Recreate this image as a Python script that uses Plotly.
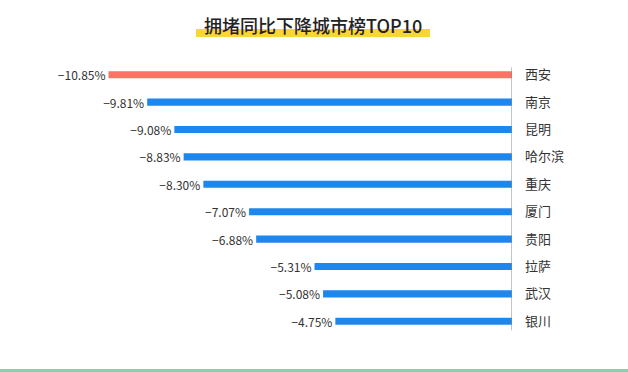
import plotly.graph_objects as go

cities = ["西安", "南京", "昆明", "哈尔滨", "重庆", "厦门", "贵阳", "拉萨", "武汉", "银川"]
values = [-10.85, -9.81, -9.08, -8.83, -8.30, -7.07, -6.88, -5.31, -5.08, -4.75]
title_text = "拥堵同比下降城市榜TOP10"

colors = ["#F77565"] + ["#1C87EE"] * (len(cities) - 1)
labels = [f"{v:.2f}%".replace("-", "−") for v in values]

font = "Noto Sans CJK SC"
fig = go.Figure(go.Bar(
    x=values, y=cities, orientation="h",
    marker=dict(color=colors, line=dict(width=0)),
    width=0.26,
    text=labels, textposition="outside", cliponaxis=False, constraintext="none",
    textfont=dict(size=12, color="#333333", family=font),
))

fig.update_layout(
    width=628, height=372,
    margin=dict(l=20, r=116, t=61, b=37),
    paper_bgcolor="white", plot_bgcolor="white",
    showlegend=False,
    font=dict(family=font, color="#333333"),
    xaxis=dict(range=[-13.23, 0], visible=False, fixedrange=True),
    yaxis=dict(autorange="reversed", side="right", showgrid=False, zeroline=False,
               showline=False, ticks="", ticklabelstandoff=12,
               tickfont=dict(size=13, color="#333333", family=font)),
    shapes=[
        dict(type="line", xref="x", yref="y", x0=0, x1=0, y0=-0.27, y1=9.33,
             line=dict(color="#888888", width=1)),
        dict(type="rect", xref="paper", yref="paper", x0=-20/492, x1=(628-20)/492,
             y0=-37/274, y1=-34/274, fillcolor="#8ECDB0", line=dict(width=0), layer="above"),
        dict(type="rect", xref="paper", yref="paper",
             x0=(196-20)/492, x1=(430-20)/492,
             y0=(372-37-37)/274, y1=(372-37-29)/274,
             fillcolor="#F9D733", line=dict(width=0), layer="below"),
    ],
    annotations=[dict(text=title_text, xref="paper", yref="paper",
                      x=(313-20)/492, y=(372-37-25)/274, xanchor="center", yanchor="middle",
                      showarrow=False,
                      font=dict(size=18, color="#222222", family=font, weight=500))],
)

fig.write_html("out.html", config={"displayModeBar": False},
               post_script="document.body.style.margin='0px';")
